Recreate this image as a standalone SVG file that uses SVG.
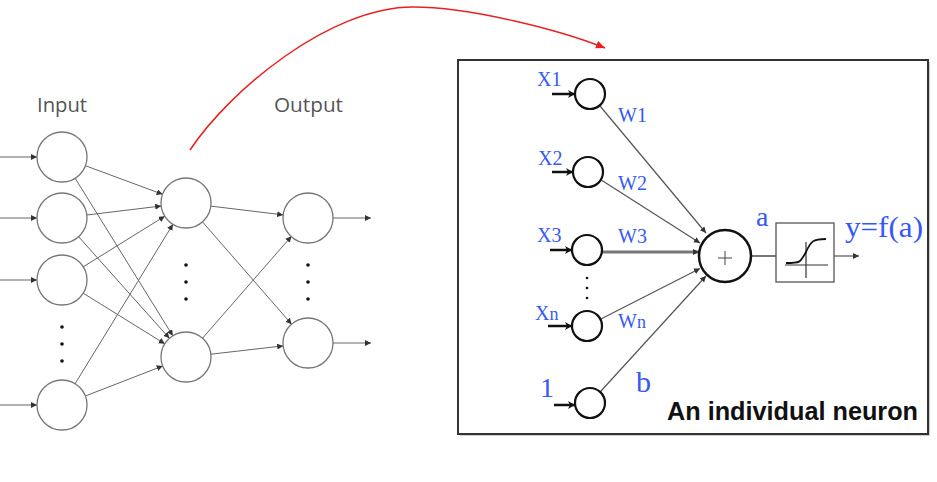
<svg xmlns="http://www.w3.org/2000/svg" width="937" height="482" viewBox="0 0 937 482">
<defs>
<marker id="ah" markerUnits="userSpaceOnUse" markerWidth="8" markerHeight="8" refX="6" refY="3" orient="auto"><path d="M0,0 L6,3 L0,6 z" fill="#333"/></marker>
<marker id="ahb" markerUnits="userSpaceOnUse" markerWidth="10" markerHeight="10" refX="7" refY="4" orient="auto"><path d="M0,0 L7,4 L0,8 L2,4 z" fill="#111"/></marker>
<marker id="ahr" markerUnits="userSpaceOnUse" markerWidth="12" markerHeight="10" refX="9" refY="4" orient="auto"><path d="M0,0 L9,4 L0,8 z" fill="#e8201f"/></marker>
</defs>
<style>
.nc{fill:#fff;stroke:#777;stroke-width:1.3}
.lc{stroke:#666;stroke-width:1;fill:none;marker-end:url(#ah)}
.lbl{font-family:"Open Sans",sans-serif;font-size:20px;fill:#555}
.dot{fill:#111}
.sc{fill:#fff;stroke:#111;stroke-width:2.2}
.bl{font-family:"Liberation Serif",serif;fill:#3658f5}
.wl{stroke:#555;stroke-width:1.2;fill:none;marker-end:url(#ah)}
.ia{stroke:#111;stroke-width:2.5;fill:none;marker-end:url(#ahb)}
</style>
<rect width="937" height="482" fill="#fff"/>

<g id="labels-left">
<text class="lbl" x="37" y="112" textLength="50" lengthAdjust="spacingAndGlyphs">Input</text>
<text class="lbl" x="274" y="112" textLength="69" lengthAdjust="spacingAndGlyphs">Output</text>
</g>

<g id="connectors">
<g id="left-inputs">
<line class="lc" x1="0" y1="157" x2="37" y2="157"/>
<line class="lc" x1="0" y1="218" x2="37" y2="218"/>
<line class="lc" x1="0" y1="280" x2="37" y2="280"/>
<line class="lc" x1="0" y1="405" x2="37" y2="405"/>
</g>
<line class="lc" x1="85.4" y1="165.7" x2="162.6" y2="194.3"/>
<line class="lc" x1="75.2" y1="178.3" x2="172.8" y2="335.8"/>
<line class="lc" x1="86.8" y1="215.0" x2="161.2" y2="206.0"/>
<line class="lc" x1="78.6" y1="236.7" x2="169.4" y2="338.3"/>
<line class="lc" x1="83.2" y1="266.8" x2="164.8" y2="216.2"/>
<line class="lc" x1="83.2" y1="293.2" x2="164.8" y2="343.8"/>
<line class="lc" x1="75.1" y1="383.7" x2="172.9" y2="224.3"/>
<line class="lc" x1="85.3" y1="396.0" x2="162.7" y2="366.0"/>
<line class="lc" x1="210.8" y1="206.1" x2="283.2" y2="214.9"/>
<line class="lc" x1="202.4" y1="221.8" x2="291.6" y2="324.2"/>
<line class="lc" x1="202.5" y1="338.2" x2="291.5" y2="236.2"/>
<line class="lc" x1="210.8" y1="354.2" x2="283.2" y2="345.9"/>
<line class="lc" x1="333" y1="218" x2="371" y2="218"/>
<line class="lc" x1="333" y1="343" x2="371" y2="343"/>
<path d="M190,150 C230,90 330,7 413,7 C470,7 560,30 605,48" fill="none" stroke="#e8201f" stroke-width="1.5" marker-end="url(#ahr)"/>
</g>

<g id="input-layer">
<circle class="nc" cx="62" cy="157" r="25"/>
<circle class="nc" cx="62" cy="218" r="25"/>
<circle class="nc" cx="62" cy="280" r="25"/>
<circle class="nc" cx="62" cy="405" r="25"/>
<circle class="dot" cx="62" cy="327" r="1.8"/>
<circle class="dot" cx="62" cy="344" r="1.8"/>
<circle class="dot" cx="62" cy="361" r="1.8"/>
</g>
<g id="hidden-layer">
<circle class="nc" cx="186" cy="203" r="25"/>
<circle class="nc" cx="186" cy="357" r="25"/>
<circle class="dot" cx="186" cy="265" r="1.8"/>
<circle class="dot" cx="186" cy="282" r="1.8"/>
<circle class="dot" cx="186" cy="299" r="1.8"/>
</g>
<g id="output-layer">
<circle class="nc" cx="308" cy="218" r="25"/>
<circle class="nc" cx="308" cy="343" r="25"/>
<circle class="dot" cx="308" cy="265" r="1.8"/>
<circle class="dot" cx="308" cy="282" r="1.8"/>
<circle class="dot" cx="308" cy="299" r="1.8"/>
</g>

<g id="neuron-box">
<rect x="460" y="62" width="470" height="374" fill="#ccc"/>
<rect x="458" y="60" width="470" height="374" fill="#fff" stroke="#333" stroke-width="2"/>

<g id="neuron-connectors">
<line class="ia" x1="552" y1="94" x2="575" y2="94"/>
<line class="ia" x1="552" y1="172" x2="573" y2="172"/>
<line class="ia" x1="550" y1="250" x2="572" y2="250"/>
<line class="ia" x1="548" y1="326" x2="572" y2="326"/>
<line class="ia" x1="554" y1="405" x2="575" y2="405"/>
<line class="wl" x1="599.6" y1="105.5" x2="706" y2="233"/>
<line class="wl" x1="600.8" y1="179.8" x2="700" y2="243"/>
<line x1="602" y1="252" x2="699" y2="252" stroke="#777" stroke-width="3" marker-end="url(#ah)"/>
<line class="wl" x1="600.4" y1="319.2" x2="700" y2="268.5"/>
<line class="wl" x1="600.1" y1="392.0" x2="706" y2="276"/>
<line x1="751" y1="256" x2="776" y2="256" stroke="#777" stroke-width="2"/>
<line x1="834" y1="256" x2="859" y2="256" stroke="#777" stroke-width="1.5" marker-end="url(#ah)"/>
</g>

<g id="x1"><circle class="sc" cx="590" cy="94" r="15"/><text class="bl" x="537" y="86" font-size="20">X1</text></g>
<g id="x2"><circle class="sc" cx="588" cy="172" r="15"/><text class="bl" x="538" y="165" font-size="20">X2</text></g>
<g id="x3"><circle class="sc" cx="587" cy="250" r="15"/><text class="bl" x="537" y="242" font-size="20">X3</text></g>
<g id="xdots">
<circle class="dot" cx="587" cy="278" r="1.3"/><circle class="dot" cx="587" cy="288" r="1.3"/><circle class="dot" cx="587" cy="298" r="1.3"/>
</g>
<g id="xn"><circle class="sc" cx="587" cy="326" r="15"/><text class="bl" x="535" y="320" font-size="20">X<tspan font-size="18">n</tspan></text></g>
<g id="bias"><circle class="sc" cx="590" cy="403" r="15"/><text class="bl" x="540" y="397" font-size="28">1</text></g>

<g id="weights">
<text class="bl" x="618" y="122" font-size="20">W1</text>
<text class="bl" x="618" y="190" font-size="20">W2</text>
<text class="bl" x="618" y="243" font-size="20">W3</text>
<text class="bl" x="618" y="328" font-size="20">W<tspan font-size="18">n</tspan></text>
<text class="bl" x="636" y="392" font-size="30">b</text>
</g>

<g id="sum">
<circle cx="725" cy="256" r="26" fill="#fff" stroke="#111" stroke-width="2.5"/>
<line x1="718" y1="258" x2="732" y2="258" stroke="#444" stroke-width="1"/>
<line x1="725" y1="251" x2="725" y2="265" stroke="#444" stroke-width="1"/>
<text class="bl" x="756" y="226" font-size="28">a</text>
</g>

<g id="activation">
<rect x="776" y="223" width="58" height="59" fill="#fff" stroke="#555" stroke-width="1.3"/>
<line x1="785" y1="265" x2="828" y2="265" stroke="#333" stroke-width="1.2"/>
<line x1="806" y1="242" x2="806" y2="278" stroke="#333" stroke-width="1.2"/>
<path d="M786,263 C800,263 800,263 806,252 C811,241 813,239 826,239" fill="none" stroke="#111" stroke-width="1.8"/>
<text class="bl" x="845" y="237" font-size="29" textLength="78" lengthAdjust="spacingAndGlyphs">y=f(a)</text>
</g>

<text x="667" y="420" font-family="Liberation Sans, sans-serif" font-weight="bold" font-size="25" fill="#111" textLength="251" lengthAdjust="spacingAndGlyphs">An individual neuron</text>
</g>
</svg>
